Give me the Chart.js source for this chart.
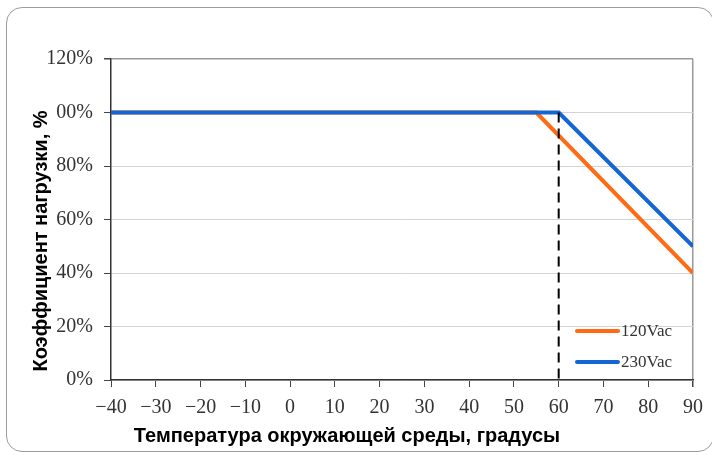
<!DOCTYPE html>
<html>
<head>
<meta charset="utf-8">
<script src="https://cdn.jsdelivr.net/npm/chart.js@4/dist/chart.umd.min.js"></script>
<style>
  html, body { margin: 0; padding: 0; background: #ffffff; }
  #wrap { position: relative; width: 712px; height: 455px; overflow: hidden; }
  #frame { position: absolute; left: 6px; top: 7px; width: 708px; height: 445px;
           border: 1.5px solid #9c9c9c; border-radius: 16px; box-sizing: border-box; }
  #c { position: absolute; left: 0; top: 0; }
</style>
</head>
<body>
<div id="wrap">
  <div id="frame"></div>
  <canvas id="c" width="712" height="455"></canvas>
</div>
<script>
// ---- data ----
const tempTicks  = [-40, -30, -20, -10, 0, 10, 20, 30, 40, 50, 60, 70, 80, 90];
const tempLabels = ["\u221240", "\u221230", "\u221220", "\u221210", "0", "10", "20", "30", "40", "50", "60", "70", "80", "90"];
const loadTicks  = [0, 20, 40, 60, 80, 100, 120];
const loadLabels = ["0%", "20%", "40%", "60%", "80%", "00%", "120%"];

const seriesNames = ["120Vac", "230Vac"];
const temp120 = [-40, 55, 90];
const load120 = [100, 100, 40];
const temp230 = [-40, 60, 90];
const load230 = [100, 100, 50];
const markerTemp = [60, 60];
const markerLoad = [100, 0];

const xTitle = "Температура окружающей среды, градусы";
const yTitle = "Коэффициент нагрузки, %";

const ORANGE = "#FF6A14";
const BLUE = "#1466D2";

function pts(xs, ys) { return xs.map((x, i) => ({ x: x, y: ys[i] })); }

const titlesPlugin = {
  id: "titles",
  afterDraw(chart) {
    const ctx = chart.ctx;
    const a = chart.chartArea;
    ctx.save();
    ctx.fillStyle = "#000";
    ctx.font = "bold 20px 'Liberation Sans', Arial, sans-serif";
    ctx.textAlign = "center";
    ctx.textBaseline = "alphabetic";
    ctx.fillText(xTitle, a.left + 236, 442);
    ctx.translate(47, a.top + 182);
    ctx.rotate(-Math.PI / 2);
    ctx.fillText(yTitle, 0, 0);
    ctx.restore();
  }
};

const legendPlugin = {
  id: "inLegend",
  afterDatasetsDraw(chart) {
    const ctx = chart.ctx;
    const a = chart.chartArea;
    ctx.save();
    seriesNames.forEach((name, k) => {
      const ds = chart.data.datasets.find(d => d.label === name);
      const y = a.bottom - 49 + k * 31;
      ctx.strokeStyle = ds.borderColor;
      ctx.lineWidth = 4;
      ctx.lineCap = "round";
      ctx.beginPath();
      ctx.moveTo(a.right - 116, y);
      ctx.lineTo(a.right - 75, y);
      ctx.stroke();
      ctx.fillStyle = "#333";
      ctx.font = "17px 'Liberation Serif', serif";
      ctx.textAlign = "left";
      ctx.textBaseline = "middle";
      ctx.fillText(ds.label, a.right - 72, y + 1);
    });
    ctx.restore();
  }
};

new Chart(document.getElementById("c"), {
  type: "line",
  data: {
    datasets: [
      { label: seriesNames[1], data: pts(temp230, load230), borderColor: BLUE, backgroundColor: BLUE,
        borderWidth: 4, pointRadius: 0, tension: 0, order: 1 },
      { label: seriesNames[0], data: pts(temp120, load120), borderColor: ORANGE, backgroundColor: ORANGE,
        borderWidth: 4, pointRadius: 0, tension: 0, order: 2 },
      { label: "limit", data: pts(markerTemp, markerLoad), borderColor: "#000", borderWidth: 2,
        borderDash: [10, 6], pointRadius: 0, order: 0 }
    ]
  },
  options: {
    responsive: false,
    animation: false,
    devicePixelRatio: 1,
    layout: { padding: { top: 59, right: 18, bottom: 0, left: 0 } },
    plugins: { legend: { display: false }, tooltip: { enabled: false }, title: { display: false } },
    scales: {
      x: {
        type: "linear", min: -40, max: 90,
        afterBuildTicks(s) { s.ticks = tempTicks.map(v => ({ value: v })); },
        afterFit(s) { s.height = 75; },
        ticks: {
          callback: (v) => tempLabels[tempTicks.indexOf(v)],
          font: { family: "'Liberation Serif', serif", size: 20 },
          color: "#333", padding: 9, maxRotation: 0, autoSkip: false
        },
        grid: {
          color: (c) => (c.tick && c.tick.value === 90) ? "#9a9a9a" : "rgba(0,0,0,0)",
          lineWidth: (c) => (c.tick && c.tick.value === 90) ? 1.5 : 1,
          tickColor: "#444", tickLength: 7
        },
        border: { color: "#333", width: 1.5 }
      },
      y: {
        type: "linear", min: 0, max: 120,
        afterBuildTicks(s) { s.ticks = loadTicks.map(v => ({ value: v })); },
        afterFit(s) { s.width = 111; },
        ticks: {
          callback: (v) => loadLabels[loadTicks.indexOf(v)],
          font: { family: "'Liberation Serif', serif", size: 20 },
          color: "#333", padding: 11
        },
        grid: {
          color: (c) => (c.tick && c.tick.value === 120) ? "#9a9a9a" : "#d4d4d4",
          lineWidth: (c) => (c.tick && c.tick.value === 120) ? 1.5 : 1,
          tickColor: "#444", tickLength: 7
        },
        border: { color: "#333", width: 1.5 }
      }
    }
  },
  plugins: [titlesPlugin, legendPlugin]
});
</script>
</body>
</html>
